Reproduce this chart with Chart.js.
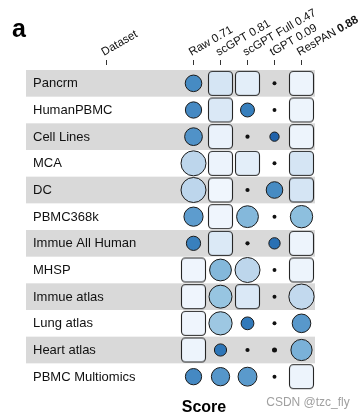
<!DOCTYPE html>
<html>
<head>
<meta charset="utf-8">
<script src="https://cdn.jsdelivr.net/npm/chart.js@4.4.1/dist/chart.umd.min.js"></script>
<style>
  html, body { margin: 0; padding: 0; background: #fff; }
  #wrap { width: 364px; height: 417px; }
</style>
</head>
<body>
<div id="wrap"><canvas id="chart" width="364" height="417"></canvas></div>
<script>
// rows and columns
const datasetNames = ["Pancrm", "HumanPBMC", "Cell Lines", "MCA", "DC", "PBMC368k",
  "Immue All Human", "MHSP", "Immue atlas", "Lung atlas", "Heart atlas", "PBMC Multiomics"];
const methods = ["Raw", "scGPT", "scGPT Full", "tGPT", "ResPAN"];
const overallScores = [0.71, 0.81, 0.47, 0.09, 0.88];

// per-dataset scores, one array per method
const rawScores       = [0.44, 0.43, 0.48, 0.73, 0.73, 0.53, 0.36, 0.97, 0.97, 0.97, 0.96, 0.43];
const scgptScores     = [0.80, 0.83, 0.94, 0.95, 0.98, 0.97, 0.84, 0.62, 0.66, 0.67, 0.29, 0.50];
const scgptFullScores = [0.89, 0.35, 0.05, 0.89, 0.05, 0.62, 0.05, 0.73, 0.83, 0.31, 0.05, 0.52];
const tgptScores      = [0.04, 0.04, 0.19, 0.04, 0.44, 0.04, 0.26, 0.04, 0.04, 0.04, 0.08, 0.04];
const respanScores    = [0.96, 0.96, 0.96, 0.80, 0.80, 0.64, 0.96, 0.96, 0.74, 0.51, 0.60, 0.96];

const allScores = [rawScores, scgptScores, scgptFullScores, tgptScores, respanScores];

const FONT = '"Liberation Sans", Arial, Helvetica, sans-serif';

// colour ramp: low score = dark blue, high score = nearly white
const ramp = [
  [0.15, [26, 90, 165]],
  [0.30, [47, 120, 185]],
  [0.45, [72, 140, 196]],
  [0.55, [98, 160, 208]],
  [0.65, [146, 194, 223]],
  [0.74, [194, 217, 238]],
  [0.80, [213, 229, 244]],
  [1.00, [243, 248, 254]]
];
function colorFor(v) {
  if (v <= ramp[0][0]) return `rgb(${ramp[0][1].join(",")})`;
  for (let i = 1; i < ramp.length; i++) {
    if (v <= ramp[i][0]) {
      const [v0, c0] = ramp[i - 1], [v1, c1] = ramp[i];
      const t = (v - v0) / (v1 - v0);
      const c = c0.map((a, k) => Math.round(a + (c1[k] - a) * t));
      return `rgb(${c.join(",")})`;
    }
  }
  return `rgb(${ramp[ramp.length - 1][1].join(",")})`;
}

const DOT_MAX = 0.12, SQUARE_MIN = 0.77;
function radiusFor(v) {
  if (v < DOT_MAX) return 1.4 + v * 14;
  if (v >= SQUARE_MIN) return 12.5;
  return (9 + (v - 0.18) * 16 / 0.55) / 2;
}

// rounded squares are drawn onto small canvases and used as point styles
const squareCache = {};
function squareFor(color) {
  if (squareCache[color]) return squareCache[color];
  const c = document.createElement("canvas");
  c.width = 27; c.height = 27;
  const g = c.getContext("2d");
  const x = 1.5, y = 1.5, w = 24, h = 24, r = 4;
  g.beginPath();
  g.moveTo(x + r, y);
  g.arcTo(x + w, y, x + w, y + h, r);
  g.arcTo(x + w, y + h, x, y + h, r);
  g.arcTo(x, y + h, x, y, r);
  g.arcTo(x, y, x + w, y, r);
  g.closePath();
  g.fillStyle = color;
  g.fill();
  g.lineWidth = 1.1;
  g.strokeStyle = "#262626";
  g.stroke();
  squareCache[color] = c;
  return c;
}

const decor = {
  id: "decor",
  beforeDatasetsDraw(chart) {
    const { ctx, chartArea, scales: { x, y } } = chart;
    const band = (y.getPixelForValue(1) - y.getPixelForValue(0));
    ctx.save();
    // striped rows + dataset names
    datasetNames.forEach((name, i) => {
      const cy = y.getPixelForValue(i);
      if (i % 2 === 0) {
        ctx.fillStyle = "#d9d9d9";
        ctx.fillRect(26, cy - band / 2, chartArea.right - 26, band);
      }
      ctx.fillStyle = "#111";
      ctx.font = `13px ${FONT}`;
      ctx.textAlign = "left";
      ctx.textBaseline = "middle";
      ctx.fillText(name, 33, cy + 0.5);
    });

    // header ticks and rotated labels
    const headers = [{ x: 106, parts: [["Dataset", false]] }];
    const best = Math.max(...overallScores);
    methods.forEach((m, i) => {
      const s = overallScores[i].toFixed(2);
      headers.push({ x: x.getPixelForValue(i), parts: [[m + " ", false], [s, overallScores[i] === best]] });
    });
    ctx.strokeStyle = "#333";
    ctx.lineWidth = 1;
    headers.forEach(h => {
      const tx = Math.floor(h.x) + 0.5;
      ctx.beginPath();
      ctx.moveTo(tx, 60);
      ctx.lineTo(tx, 65);
      ctx.stroke();
      ctx.save();
      ctx.translate(h.x - 2, 56);
      ctx.rotate(-30 * Math.PI / 180);
      ctx.textAlign = "left";
      ctx.textBaseline = "alphabetic";
      ctx.fillStyle = "#111";
      let off = 0;
      h.parts.forEach(([txt, bold]) => {
        ctx.font = `${bold ? "bold " : ""}11.5px ${FONT}`;
        ctx.fillText(txt, off, 0);
        off += ctx.measureText(txt).width;
      });
      ctx.restore();
    });

    // panel letter, axis title, watermark
    ctx.fillStyle = "#000";
    ctx.textAlign = "left";
    ctx.textBaseline = "alphabetic";
    ctx.font = `bold 25px ${FONT}`;
    ctx.fillText("a", 12, 37);
    ctx.textAlign = "center";
    ctx.font = `bold 16px ${FONT}`;
    ctx.fillText("Score", 204, 412);
    ctx.fillStyle = "#a0a0a0";
    ctx.font = `12px ${FONT}`;
    ctx.fillText("CSDN @tzc_fly", 308, 406);
    ctx.restore();
  }
};

new Chart(document.getElementById("chart"), {
  type: "scatter",
  data: {
    datasets: methods.map((m, mi) => ({
      label: m,
      data: datasetNames.map((d, i) => ({ x: m, y: d, v: allScores[mi][i] })),
      clip: false,
      pointStyle: c => {
        const v = c.raw.v;
        return v >= SQUARE_MIN ? squareFor(colorFor(v)) : "circle";
      },
      pointRadius: c => radiusFor(c.raw.v),
      pointBackgroundColor: c => (c.raw.v < DOT_MAX ? "#111" : colorFor(c.raw.v)),
      pointBorderColor: "#1a1a1a",
      pointBorderWidth: c => (c.raw.v < DOT_MAX ? 0 : 1)
    }))
  },
  options: {
    responsive: false,
    devicePixelRatio: 1,
    animation: false,
    events: [],
    layout: { padding: { left: 180, right: 49, top: 70, bottom: 27 } },
    scales: {
      x: { type: "category", labels: methods, offset: true, display: false },
      y: { type: "category", labels: datasetNames, offset: true, display: false }
    },
    plugins: { legend: { display: false }, tooltip: { enabled: false } }
  },
  plugins: [decor]
});
</script>
</body>
</html>
